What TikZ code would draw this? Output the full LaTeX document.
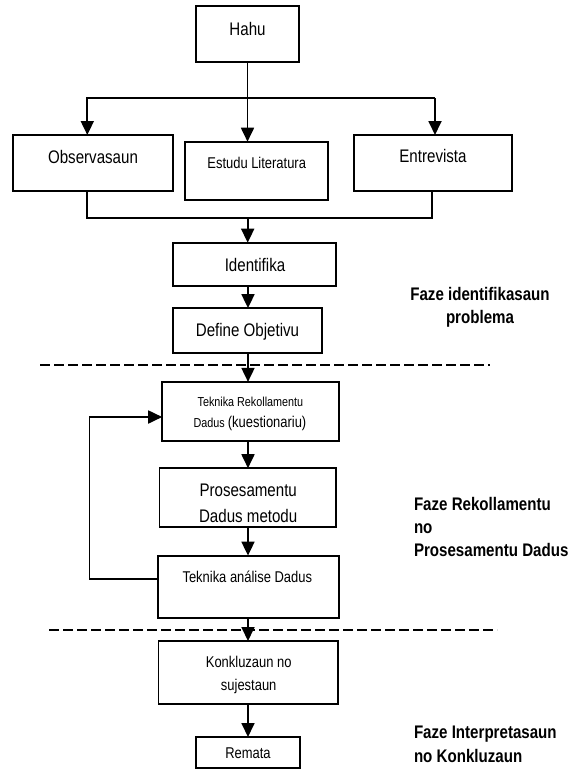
\documentclass[tikz,border=0pt]{standalone}
\usepackage{fontspec}
\setmainfont{Liberation Sans}[FakeStretch=0.83]
\usetikzlibrary{arrows.meta}
\newcommand\fsbig{\fontsize{18.2}{21}\selectfont}
\newcommand\fsmed{\fontsize{15.6}{18}\selectfont}
\newcommand\fssml{\fontsize{13}{15}\selectfont}
\begin{document}
\begin{tikzpicture}[x=1pt,y=-1pt,
  box/.style={draw=black,line width=1.8pt,rectangle,inner sep=0pt,outer sep=0pt},
  txt/.style={inner sep=0pt,outer sep=0pt,anchor=base},
  conn/.style={draw=black,line width=1.8pt},
  arr/.style={conn,-{Triangle[width=13pt,length=14pt]}},
  sep/.style={draw=black,line width=2pt,dash pattern=on 10pt off 4pt}]
\useasboundingbox (0,0) rectangle (572,769);
% boxes
\node[box,minimum width=103pt,minimum height=56pt] (hahu) at (247.5,34) {};
\node[box,minimum width=160.3pt,minimum height=55.7pt] (obs) at (92.85,162.85) {};
\node[box,minimum width=143.3pt,minimum height=58.3pt] (estudu) at (256.65,170.85) {};
\node[box,minimum width=157.7pt,minimum height=55.7pt] (entre) at (432.85,162.85) {};
\node[box,minimum width=163.3pt,minimum height=43pt] (ident) at (254.35,264.2) {};
\node[box,minimum width=149.6pt,minimum height=45pt] (define) at (247.5,330.6) {};
\node[box,minimum width=176.4pt,minimum height=59.4pt] (tek1) at (250.4,411.6) {};
\node[box,minimum width=176.4pt,minimum height=58.4pt] (proses) at (247.7,497.4) {};
\node[box,minimum width=180.9pt,minimum height=62.1pt] (analise) at (248.15,586.65) {};
\node[box,minimum width=179.6pt,minimum height=62.8pt] (konk) at (248.2,672.4) {};
\node[box,minimum width=104pt,minimum height=31pt] (remata) at (248,752.5) {};
% texts
\node[txt,font=\fsbig] (thahu) at (247.5,35) {Hahu};
\node[txt,font=\fsbig] (tobs) at (93,163.3) {Observasaun};
\node[txt,font=\fsmed] (testudu) at (256.7,168.3) {Estudu Literatura};
\node[txt,font=\fsbig] (tentre) at (433,162.7) {Entrevista};
\node[txt,font=\fsbig] (tident) at (255,271.7) {Identifika};
\node[txt,font=\fsbig] (tdefine) at (247.5,336) {Define Objetivu};
\node[txt,font=\fssml] (ttek1a) at (250.4,406.2) {Teknika Rekollamentu};
\node[txt] (ttek1b) at (250,427.5) {\fssml Dadus \fsmed(kuestionariu)};
\node[txt,font=\fsbig] (tprosa) at (248.2,496.6) {Prosesamentu};
\node[txt,font=\fsbig] (tprosb) at (248.2,522) {Dadus metodu};
\node[txt,font=\fsmed] (tanal) at (247.3,582) {Teknika análise Dadus};
\node[txt,font=\fsmed] (tkonka) at (248.7,667.5) {Konkluzaun no};
\node[txt,font=\fsmed] (tkonkb) at (248.7,690.5) {sujestaun};
\node[txt,font=\fsmed] (trem) at (248,758) {Remata};
% phase labels
\node[txt,font=\fsbig\bfseries] (f1a) at (480,300) {Faze identifikasaun};
\node[txt,font=\fsbig\bfseries] (f1b) at (480,323.5) {problema};
\node[txt,font=\fsbig\bfseries,anchor=base west] (f2a) at (414,510) {Faze Rekollamentu};
\node[txt,font=\fsbig\bfseries,anchor=base west] (f2b) at (414,533.5) {no};
\node[txt,font=\fsbig\bfseries,anchor=base west] (f2c) at (414,556) {Prosesamentu Dadus};
\node[txt,font=\fsbig\bfseries,anchor=base west] (f3a) at (414,738) {Faze Interpretasaun};
\node[txt,font=\fsbig\bfseries,anchor=base west] (f3b) at (414,762) {no Konkluzaun};
% helper coordinates
\coordinate (spine) at (248,0);
\coordinate (jl) at (87.3,98);
\coordinate (jr) at (435,98);
\coordinate (ml) at (87.3,218.3);
\coordinate (mr) at (432,218.3);
\coordinate (mc) at (247.7,218.3);
\coordinate (fbbot) at (89.5,579.2);
\coordinate (fbtop) at (89.5,417);
% connectors
\draw[arr] (hahu.south) -- (hahu.south |- estudu.north);
\draw[arr] (jr) -- (jl) -- (jl |- obs.north);
\draw[arr] (jl -| jr) -- (jr |- entre.north);
\draw[conn] (ml |- obs.south) -- (ml) -- (mr) -- (mr |- entre.south);
\draw[arr] (mc) -- (mc |- ident.north);
\draw[arr] (ident.south -| spine) -- (define.north -| spine);
\draw[arr] (define.south -| spine) -- (tek1.north -| spine);
\draw[arr] (tek1.south -| spine) -- (proses.north -| spine);
\draw[arr] (proses.south -| spine) -- (analise.north -| spine);
\draw[arr] (analise.south -| spine) -- (konk.north -| spine);
\draw[arr] (konk.south -| spine) -- (remata.north -| spine);
\draw[arr] (fbbot -| analise.west) -- (fbbot) -- (fbtop) -- (fbtop -| tek1.west);
% phase separators
\draw[sep] (40,365) -- (490,365);
\draw[sep] (49,630) -- (497,630);
\end{tikzpicture}
\end{document}
